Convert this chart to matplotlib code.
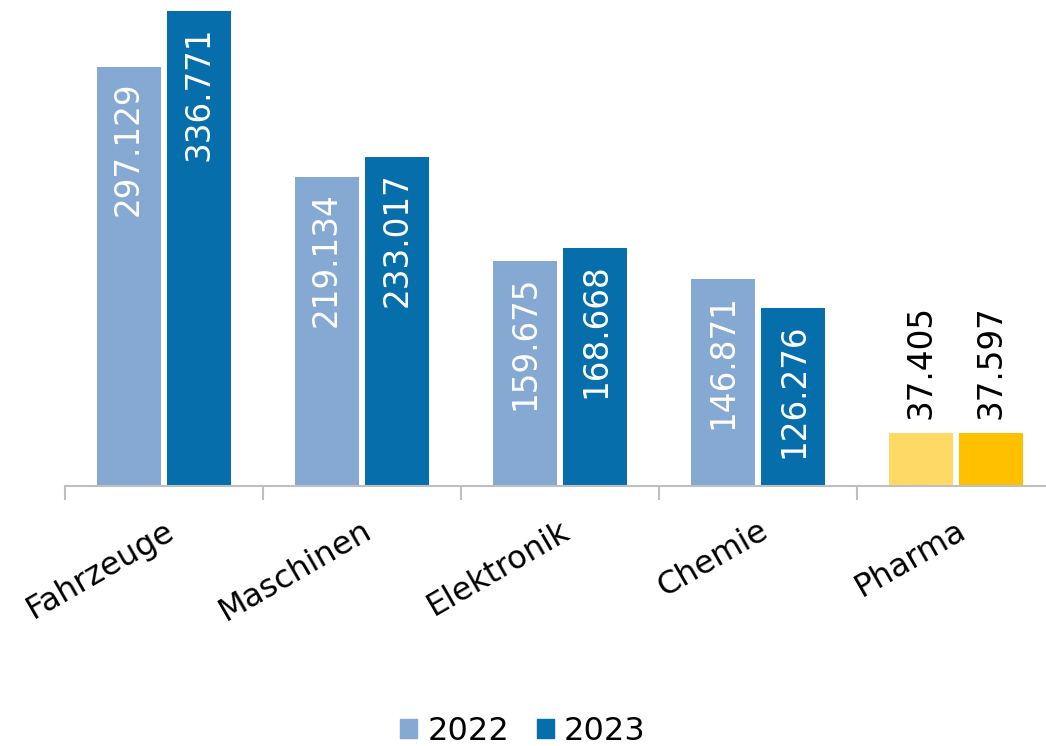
import matplotlib
matplotlib.use("Agg")
import matplotlib.pyplot as plt
import numpy as np
from matplotlib.patches import Patch

categories = ["Fahrzeuge", "Maschinen", "Elektronik", "Chemie", "Pharma"]
values_2022 = [297.129, 219.134, 159.675, 146.871, 37.405]
values_2023 = [336.771, 233.017, 168.668, 126.276, 37.597]
labels_2022 = ["297.129", "219.134", "159.675", "146.871", "37.405"]
labels_2023 = ["336.771", "233.017", "168.668", "126.276", "37.597"]
series_names = ["2022", "2023"]

blue_light = "#86A9D3"
blue_dark = "#066EAA"
yellow_light = "#FFD966"
yellow_dark = "#FFC000"

plt.rcParams['font.family'] = ['DejaVu Sans']

fig = plt.figure(figsize=(10.46, 7.46), dpi=100)
ax = fig.add_axes([65/1046, 1 - 486/746, 990/1046, 486/746])

x = np.arange(len(categories))
w = 0.323
off = 0.179

colors_2022 = [blue_light]*4 + [yellow_light]
colors_2023 = [blue_dark]*4 + [yellow_dark]

bars1 = ax.bar(x - off, values_2022, w, color=colors_2022)
bars2 = ax.bar(x + off, values_2023, w, color=colors_2023)

# value labels: inside the blue bars, above the small pharma bars
for bars, labels in [(bars1, labels_2022), (bars2, labels_2023)]:
    for i, (b, lab) in enumerate(zip(bars, labels)):
        cx = b.get_x() + b.get_width()/2
        h = b.get_height()
        if categories[i] == "Pharma":
            ax.annotate(lab, (cx, h), xytext=(0, 10), textcoords="offset points",
                        rotation=90, ha="center", va="bottom", fontsize=23.5, color="black")
        else:
            ax.annotate(lab, (cx, h), xytext=(0, -11), textcoords="offset points",
                        rotation=90, ha="center", va="top", fontsize=23.5, color="white")

ax.set_xlim(-0.5, len(categories) - 0.5)
ax.set_ylim(0, 344.4)

for s in ["top", "right", "left"]:
    ax.spines[s].set_visible(False)
ax.spines["bottom"].set_color("#BFBFBF")
ax.spines["bottom"].set_linewidth(1.5)
ax.set_yticks([])

ax.set_xticks(x)
ax.set_xticklabels(categories, rotation=30, ha="right", rotation_mode="anchor", fontsize=23)
ax.tick_params(axis="x", which="major", length=0, pad=21)
ax.set_xticks(np.arange(-0.5, len(categories)), minor=True)
ax.tick_params(axis="x", which="minor", length=10, color="#BFBFBF", width=1.5)

handles = [Patch(color=blue_light), Patch(color=blue_dark)]
fig.legend(handles, series_names, loc="lower center", ncol=2, frameon=False,
           fontsize=23, handlelength=0.53, handleheight=0.53, handletextpad=0.32,
           columnspacing=0.85, bbox_to_anchor=(0.5, -0.04))

fig.savefig("out.png", dpi=100)
